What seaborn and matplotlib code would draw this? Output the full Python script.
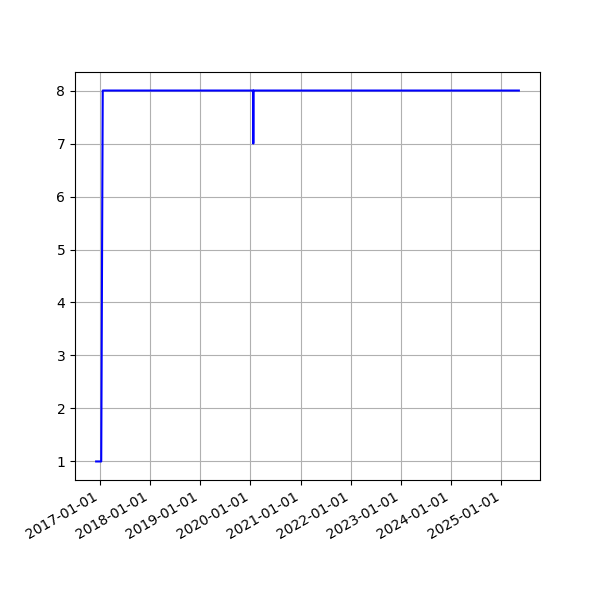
import matplotlib
matplotlib.use('Agg')
import matplotlib.pyplot as plt
import matplotlib.dates as mdates
import pandas as pd
import seaborn as sns

dates = ['2016-12-04', '2017-01-10', '2017-01-21', '2020-01-21',
         '2020-01-22', '2020-01-23', '2025-05-08']
values = [1, 1, 8, 8, 7, 8, 8]

df = pd.DataFrame({'date': pd.to_datetime(dates), 'value': values})

fig, ax = plt.subplots(figsize=(6, 6), dpi=100)
sns.lineplot(x='date', y='value', data=df, color='blue', ax=ax)
ax.set_xlabel('')
ax.set_ylabel('')
ax.grid(True)
ax.xaxis.set_major_locator(mdates.YearLocator())
ax.xaxis.set_major_formatter(mdates.DateFormatter('%Y-%m-%d'))
fig.autofmt_xdate()
plt.savefig('out.png')
